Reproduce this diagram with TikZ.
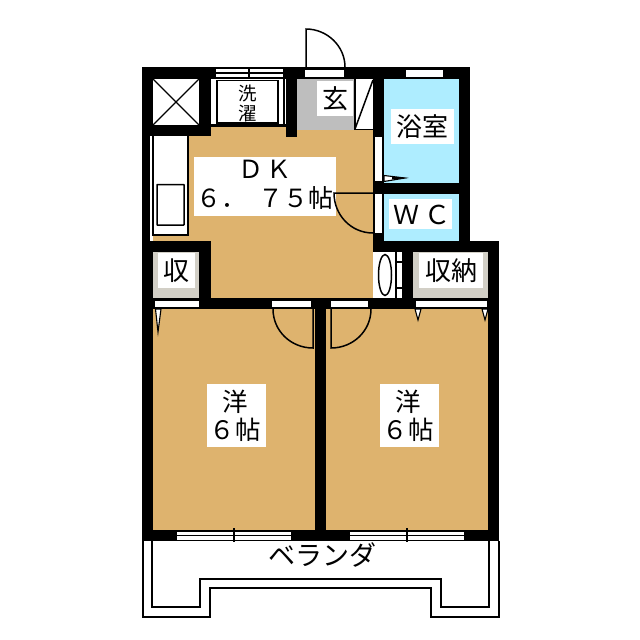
\documentclass[tikz,border=0pt]{standalone}
\usepackage{fontspec}
\setmainfont{Noto Sans CJK JP}
\definecolor{tan}{HTML}{DEB36E}
\definecolor{bath}{HTML}{AEEDFF}
\definecolor{genkan}{HTML}{BEBEBE}
\definecolor{closet}{HTML}{D2CFC6}
\tikzset{
  x=1pt,y=-1pt,
  wall/.style={fill=black,draw=none},
  glass/.style={fill=white,draw=none},
  thinln/.style={draw=black,line width=1.5pt},
  thin2/.style={draw=black,line width=1.1pt},
  lbl/.style={inner sep=0pt,text=black,align=center},
  big/.style={lbl,font=\fontsize{26pt}{26pt}\selectfont},
  room/.style={lbl,font=\fontsize{25.5pt}{28pt}\selectfont}
}
\begin{document}
\begin{tikzpicture}
\useasboundingbox (0,0) rectangle (640,640);
\fill[white] (0,0) rectangle (640,640);
% floors
\fill[tan] (153,136) rectangle (373,298);
\fill[tan] (211,127) rectangle (373,136);
\fill[tan] (153,309) rectangle (315,530);
\fill[tan] (326,309) rectangle (488,530);
\fill[bath] (384,79) rectangle (459,183);
\fill[bath] (384,194) rectangle (459,241);
\fill[genkan] (297,79) rectangle (355,130);
\fill[closet] (153,252) rectangle (199,298);
\fill[closet] (413,252) rectangle (488,298);
% walls
\fill[wall] (142,67) rectangle (470,79);
\fill[wall] (142,67) rectangle (153,136);
\fill[wall] (142,136) rectangle (150,241);
\fill[wall] (142,241) rectangle (153,541);
\fill[wall] (142,125) rectangle (211,136);
\fill[wall] (199,67) rectangle (211,136);
\fill[wall] (286,67) rectangle (297,137);
\fill[wall] (373,67) rectangle (384,252);
\fill[wall] (459,67) rectangle (470,252);
\fill[wall] (373,183) rectangle (470,194);
\fill[wall] (373,241) rectangle (499,252);
\fill[wall] (488,241) rectangle (499,541);
\fill[wall] (402,241) rectangle (413,309);
\fill[wall] (142,241) rectangle (211,252);
\fill[wall] (199,241) rectangle (211,309);
\fill[wall] (142,298) rectangle (499,309);
\fill[wall] (315,298) rectangle (326,541);
\fill[wall] (142,530) rectangle (499,541);
% closet X
\fill[white] (153,79) rectangle (199,125);
\draw[thin2] (153,79) -- (199,125) (199,79) -- (153,125);
% laundry
\fill[white] (211,79) rectangle (286,124);
\fill[wall] (211,124) rectangle (286,127);
\draw[thinln,fill=white] (217,80.5) rectangle (278,123);
\draw[thin2] (284,79) -- (284,125);
\node[lbl,font=\fontsize{18.5pt}{20pt}\selectfont] (laundry) at (248,103) {洗\\濯};
% top window
\fill[glass] (216,69) rectangle (283,77);
\draw[thin2] (216,73) -- (283,73);
\draw[thin2] (249,67) -- (249,79);
% entrance door
\fill[glass] (305,70) rectangle (344,77);
\draw[thinln] (306,67) -- (306,29) .. controls (327,29) and (345,46) .. (345,67);
% genkan
\fill[white] (317,81) rectangle (353,116);
\node[big] (genkanl) at (335,98.5) {玄};
% shoe box
\fill[white] (355,79) rectangle (373,129);
\draw[thinln] (355,79) -- (355,129.5) -- (373,129.5);
\draw[thinln] (355,129) -- (373,80);
% bath
\fill[glass] (406,70) rectangle (443,77);
\fill[white] (391,109) rectangle (454,144);
\node[big] (bathl) at (422.5,127) {浴室};
\fill[glass] (375,137) rectangle (382,181);
\draw[thin2,fill=white] (384,175.5) -- (384,181.5) -- (405,178) -- cycle;
\fill[black] (392,176.5) -- (407,178) -- (392,179.5) -- cycle;
% wc
\fill[glass] (374.5,194) rectangle (382,233);
\fill[white] (389,199) rectangle (452,229);
\node[big] (wcl) at (422,215) {Ｗ\hspace{6pt}Ｃ};
% kitchen
\fill[white] (150,136) rectangle (188,235);
\draw[thin2] (153,136) -- (153,235) -- (188,235) -- (188,136);
\draw[thinln,rounded corners=0.5pt] (157,184.5) rectangle (184,225);
% DK label
\fill[white] (194,157) rectangle (336,216);
\node[lbl,font=\fontsize{25pt}{29pt}\selectfont] (dkl) at (265,185) {Ｄ\hspace{4pt}Ｋ\\６．\hspace{12pt}７５帖};
% WC door
\draw[thinln] (373,193) -- (334,193) .. controls (334,215) and (351,233) .. (373,233);
% wash
\fill[white] (373,252) rectangle (402,298);
\draw[thinln] (385,275) ellipse[x radius=6.5,y radius=20.5];
\draw[thinln] (396,252) -- (396,298);
\draw[thin2] (396,262) -- (402,262) (396,288) -- (402,288);
% closets
\fill[white] (158,253) rectangle (195,288);
\node[big] (shuL) at (176.5,271) {収};
\fill[white] (419,253) rectangle (483,288);
\node[big] (shuR) at (451,271) {収納};
% openings in the cross wall
\fill[glass] (155,301) rectangle (199,307);
\fill[glass] (272,301) rectangle (311,307);
\fill[glass] (331,301) rectangle (368,307);
\fill[glass] (416,301) rectangle (487,307);
% room doors
\draw[thinln] (313,309) -- (313,348) .. controls (291,348) and (273,331) .. (273,309);
\draw[thinln] (331,309) -- (331,348) .. controls (353,348) and (371,331) .. (371,309);
% closet door leaves
\draw[thin2,fill=white] (155.5,309) -- (161,309) -- (158,332) -- cycle;
\draw[thin2,fill=white] (415,309) -- (421,309) -- (418,320) -- cycle;
\draw[thin2,fill=white] (482,309) -- (488,309) -- (485,320) -- cycle;
% room labels
\fill[white] (207,384) rectangle (266,447);
\fill[white] (380,384) rectangle (439,447);
\node[room] (roomL) at (235,416) {洋\\６\hspace{1pt}帖};
\node[room] (roomR) at (408.5,416) {洋\\６\hspace{1pt}帖};
% south windows
\fill[glass] (177,532) rectangle (291,539.5);
\fill[glass] (350,532) rectangle (464,539.5);
\draw[thin2] (177,535.7) -- (291,535.7) (350,535.7) -- (464,535.7);
\draw[thinln] (234,528) -- (234,542) (407,528) -- (407,542);
% balcony
\draw[thinln] (143,541) -- (143,617) -- (210,617) -- (210,588) -- (431,588) -- (431,617) -- (499,617) -- (499,541);
\draw[thinln] (152,541) -- (152,607) -- (200,607) -- (200,579) -- (441,579) -- (441,607) -- (489,607) -- (489,541);
\node[lbl,font=\fontsize{27pt}{27pt}\selectfont] (balcony) at (322,555) {ベランダ};
\end{tikzpicture}
\end{document}
